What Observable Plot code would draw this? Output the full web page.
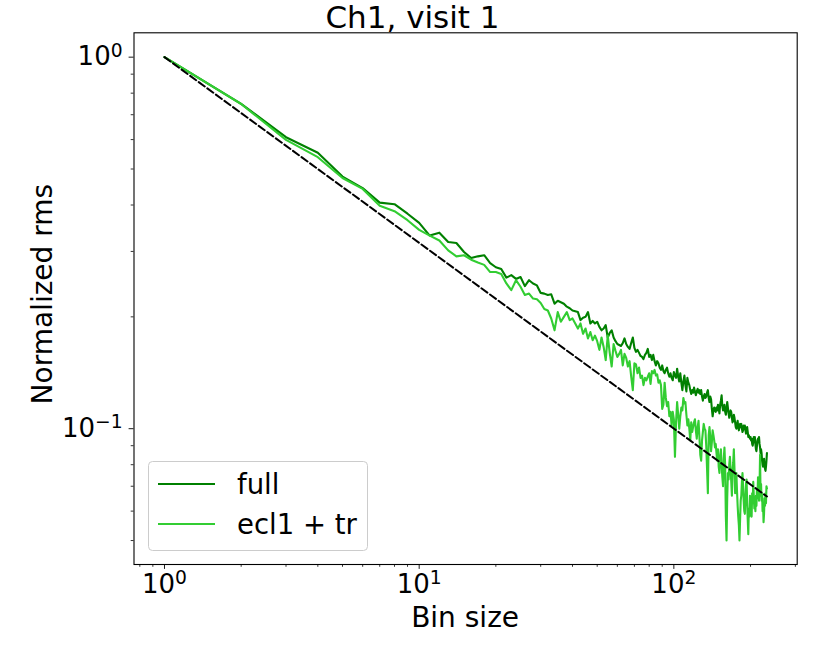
<!DOCTYPE html>
<html>
<head>
<meta charset="utf-8">
<script src="https://cdn.jsdelivr.net/npm/d3@7"></script>
<script src="https://cdn.jsdelivr.net/npm/@observablehq/plot@0.6"></script>
<style>
  html, body { margin: 0; padding: 0; background: white; }
  #chart { position: relative; width: 830px; height: 664px; }
</style>
</head>
<body>
<div id="chart"></div>
<script>
const binSize = [
  1,2,3,4,5,6,7,8,9,10,11,12,13,14,15,16,17,18,19,20,
  21,22,23,24,25,26,27,28,29,30,31,32,33,34,35,36,37,38,39,40,
  41,42,43,44,45,46,47,48,49,50,51,52,53,54,55,56,57,58,59,60,
  61,62,63,64,65,66,67,68,69,70,71,72,73,74,75,76,77,78,79,80,
  81,82,83,84,85,86,87,88,89,90,91,92,93,94,95,96,97,98,99,100,
  101,102,103,104,105,106,107,108,109,110,111,112,113,114,115,116,117,118,119,120,
  121,122,123,124,125,126,127,128,129,130,131,132,133,134,135,136,137,138,139,140,
  141,142,143,144,145,146,147,148,149,150,151,152,153,154,155,156,157,158,159,160,
  161,162,163,164,165,166,167,168,169,170,171,172,173,174,175,176,177,178,179,180,
  181,182,183,184,185,186,187,188,189,190,191,192,193,194,195,196,197,198,199,200,
  201,202,203,204,205,206,207,208,209,210,211,212,213,214,215,216,217,218,219,220,
  221,222,223,224,225,226,227,228,229,230,231,232
];

const rmsFull = [
  1.000, 0.749, 0.609, 0.553, 0.477, 0.444, 0.406, 0.402, 0.379, 0.358, 0.331, 0.337, 0.318, 0.316, 0.299,
  0.288, 0.291, 0.293, 0.279, 0.272, 0.269, 0.255, 0.259, 0.253, 0.256, 0.242, 0.251, 0.246, 0.243, 0.232,
  0.231, 0.229, 0.230, 0.217, 0.221, 0.219, 0.217, 0.213, 0.211, 0.208, 0.207, 0.206, 0.196, 0.199, 0.200,
  0.206, 0.192, 0.195, 0.192, 0.194, 0.188, 0.184, 0.186, 0.190, 0.176, 0.181, 0.184, 0.176, 0.172, 0.169,
  0.168, 0.167, 0.170, 0.175, 0.169, 0.166, 0.164, 0.170, 0.176, 0.165, 0.161, 0.163, 0.160, 0.157, 0.156,
  0.154, 0.158, 0.160, 0.164, 0.156, 0.158, 0.153, 0.158, 0.152, 0.148, 0.152, 0.150, 0.146, 0.144, 0.148,
  0.143, 0.141, 0.144, 0.146, 0.141, 0.138, 0.141, 0.137, 0.135, 0.142, 0.139, 0.137, 0.145, 0.138, 0.134,
  0.141, 0.133, 0.127, 0.134, 0.139, 0.131, 0.126, 0.137, 0.133, 0.131, 0.127, 0.124, 0.127, 0.125, 0.129,
  0.126, 0.123, 0.126, 0.128, 0.125, 0.127, 0.124, 0.127, 0.122, 0.119, 0.122, 0.124, 0.121, 0.122, 0.125,
  0.127, 0.121, 0.118, 0.122, 0.120, 0.113, 0.108, 0.112, 0.114, 0.112, 0.111, 0.114, 0.112, 0.116, 0.113,
  0.110, 0.116, 0.119, 0.123, 0.115, 0.112, 0.114, 0.116, 0.111, 0.109, 0.113, 0.118, 0.114, 0.110, 0.107,
  0.110, 0.112, 0.111, 0.107, 0.104, 0.106, 0.109, 0.107, 0.104, 0.101, 0.100, 0.103, 0.105, 0.101, 0.099,
  0.101, 0.103, 0.101, 0.103, 0.100, 0.098, 0.099, 0.102, 0.100, 0.102, 0.099, 0.097, 0.099, 0.101, 0.098,
  0.095, 0.096, 0.095, 0.094, 0.095, 0.093, 0.094, 0.091, 0.090, 0.092, 0.095, 0.092, 0.095, 0.091, 0.088,
  0.087, 0.090, 0.093, 0.094, 0.092, 0.095, 0.091, 0.089, 0.086, 0.088, 0.086, 0.082, 0.080, 0.079, 0.082,
  0.083, 0.080, 0.078, 0.077, 0.079, 0.082, 0.086
];

const rmsEclTr = [
  1.000, 0.748, 0.599, 0.538, 0.473, 0.442, 0.398, 0.385, 0.364, 0.343, 0.331, 0.321, 0.302, 0.291, 0.293,
  0.285, 0.280, 0.276, 0.264, 0.264, 0.261, 0.246, 0.236, 0.251, 0.241, 0.229, 0.231, 0.224, 0.223, 0.218,
  0.210, 0.208, 0.198, 0.184, 0.206, 0.194, 0.200, 0.206, 0.196, 0.198, 0.192, 0.186, 0.192, 0.180, 0.186,
  0.175, 0.182, 0.173, 0.178, 0.172, 0.163, 0.176, 0.166, 0.153, 0.178, 0.160, 0.147, 0.169, 0.162, 0.156,
  0.159, 0.163, 0.148, 0.159, 0.155, 0.147, 0.152, 0.138, 0.127, 0.150, 0.149, 0.141, 0.146, 0.137, 0.139,
  0.131, 0.137, 0.135, 0.138, 0.141, 0.132, 0.143, 0.141, 0.144, 0.139, 0.140, 0.133, 0.135, 0.131, 0.113,
  0.116, 0.133, 0.121, 0.115, 0.118, 0.108, 0.111, 0.102, 0.111, 0.106, 0.084, 0.104, 0.118, 0.109, 0.100,
  0.108, 0.114, 0.112, 0.121, 0.117, 0.118, 0.109, 0.102, 0.106, 0.100, 0.093, 0.104, 0.098, 0.101, 0.104,
  0.106, 0.099, 0.094, 0.101, 0.105, 0.095, 0.085, 0.082, 0.093, 0.098, 0.103, 0.100, 0.099, 0.090, 0.078,
  0.067, 0.096, 0.101, 0.095, 0.087, 0.092, 0.099, 0.096, 0.093, 0.089, 0.091, 0.086, 0.082, 0.088, 0.079,
  0.076, 0.084, 0.088, 0.080, 0.074, 0.070, 0.083, 0.089, 0.080, 0.058, 0.050, 0.065, 0.076, 0.073, 0.080,
  0.084, 0.078, 0.072, 0.066, 0.077, 0.081, 0.088, 0.078, 0.067, 0.072, 0.076, 0.068, 0.062, 0.058, 0.055,
  0.050, 0.057, 0.064, 0.066, 0.072, 0.076, 0.070, 0.064, 0.060, 0.059, 0.066, 0.071, 0.073, 0.063, 0.057,
  0.052, 0.061, 0.058, 0.066, 0.060, 0.063, 0.058, 0.067, 0.063, 0.072, 0.066, 0.061, 0.065, 0.060, 0.066,
  0.062, 0.069, 0.065, 0.074, 0.068, 0.064, 0.070, 0.085, 0.066, 0.071, 0.064, 0.067, 0.060, 0.063, 0.056,
  0.059, 0.065, 0.062, 0.067, 0.063, 0.070, 0.069
];

// reference white-noise line (straight on log-log): endpoints
const refBin = [1, 232];
const refRms = [1.0, 0.0657];

const xMajorTicks = [1, 10, 100];
const xMinorTicks = [0.8, 0.9, 2, 3, 4, 5, 6, 7, 8, 9, 20, 30, 40, 50, 60, 70, 80, 90, 200, 300];
const yMajorTicks = [0.1, 1];
const yMinorTicks = [0.05, 0.06, 0.07, 0.08, 0.09, 0.2, 0.3, 0.4, 0.5, 0.6, 0.7, 0.8, 0.9];

const seriesNames = ["full", "ecl1 + tr"];
const seriesColors = ["#008000", "#32cd32"];
const titleText = "Ch1, visit 1";
const xLabel = "Bin size";
const yLabel = "Normalized rms";

const fullTable = binSize.map((n, i) => ({n, v: rmsFull[i]}));
const eclTable = binSize.map((n, i) => ({n, v: rmsEclTr[i]}));
const refTable = refBin.map((n, i) => ({n, v: refRms[i]}));

const expFmt = d => "10^" + String(Math.round(Math.log10(d))).replace("-", "\u2212");

const W = 830, H = 664;
const mL = 133.5, mR = 33.3, mT = 32.3, mB = 100;

const chart = Plot.plot({
  width: W,
  height: H,
  marginLeft: mL,
  marginRight: mR,
  marginTop: mT,
  marginBottom: mB,
  style: {fontFamily: "DejaVu Sans", background: "white", color: "black", overflow: "visible"},
  x: {type: "log", domain: [0.759, 305]},
  y: {type: "log", domain: [0.0431, 1.163]},
  marks: [
    Plot.axisX({ticks: xMinorTicks, tickSize: 2.8, tickFormat: () => "", label: null, strokeWidth: 0.8}),
    Plot.axisX({ticks: xMajorTicks, tickSize: 4.9, tickPadding: 5, tickFormat: expFmt, label: null, fontSize: 26, strokeWidth: 0.9}),
    Plot.axisY({ticks: yMinorTicks, tickSize: 2.8, tickFormat: () => "", label: null, strokeWidth: 0.8}),
    Plot.axisY({ticks: yMajorTicks, tickSize: 4.9, tickPadding: 6.5, tickFormat: expFmt, label: null, fontSize: 26, strokeWidth: 0.9}),
    Plot.line(fullTable, {x: "n", y: "v", stroke: seriesColors[0], strokeWidth: 2.1}),
    Plot.line(eclTable, {x: "n", y: "v", stroke: seriesColors[1], strokeWidth: 2.1}),
    Plot.line(refTable, {x: "n", y: "v", stroke: "black", strokeWidth: 2, strokeDasharray: "7.4,3.2"}),
    Plot.frame({stroke: "black", strokeWidth: 1.1})
  ]
});

document.getElementById("chart").appendChild(chart);

const svg = d3.select(chart);

// turn "10^k" tick labels into real superscripts
svg.selectAll("text").each(function() {
  const t = this.textContent;
  if (!t || t.indexOf("^") < 0) return;
  const [base, ex] = t.split("^");
  const sel = d3.select(this);
  sel.text(null);
  sel.append("tspan").text(base);
  sel.append("tspan").attr("dy", "-0.48em").attr("font-size", "0.72em").text(ex);
});

// title
svg.append("text")
  .attr("x", 412.5).attr("y", 28)
  .attr("text-anchor", "middle")
  .attr("font-size", 31)
  .attr("fill", "black")
  .text(titleText);

// axis labels
svg.append("text")
  .attr("x", (mL + W - mR) / 2).attr("y", 627)
  .attr("text-anchor", "middle")
  .attr("font-size", 28)
  .attr("fill", "black")
  .text(xLabel);

svg.append("text")
  .attr("transform", `translate(51.5, ${(mT + H - mB) / 2 - 4}) rotate(-90)`)
  .attr("text-anchor", "middle")
  .attr("font-size", 28)
  .attr("fill", "black")
  .text(yLabel);

// legend
const lg = svg.append("g").attr("text-anchor", "start");
lg.append("rect")
  .attr("x", 148.5).attr("y", 461.5)
  .attr("width", 219).attr("height", 89)
  .attr("rx", 4).attr("ry", 4)
  .attr("fill", "white").attr("fill-opacity", 0.8)
  .attr("stroke", "#cccccc").attr("stroke-width", 1);
seriesNames.forEach((name, i) => {
  const yy = 484 + i * 40;
  lg.append("line")
    .attr("x1", 158).attr("x2", 215)
    .attr("y1", yy).attr("y2", yy)
    .attr("stroke", seriesColors[i]).attr("stroke-width", 2.1);
  lg.append("text")
    .attr("x", 237).attr("y", yy + 10)
    .attr("text-anchor", "start")
    .attr("font-size", 27.5)
    .attr("fill", "black")
    .text(name);
});
</script>
</body>
</html>
